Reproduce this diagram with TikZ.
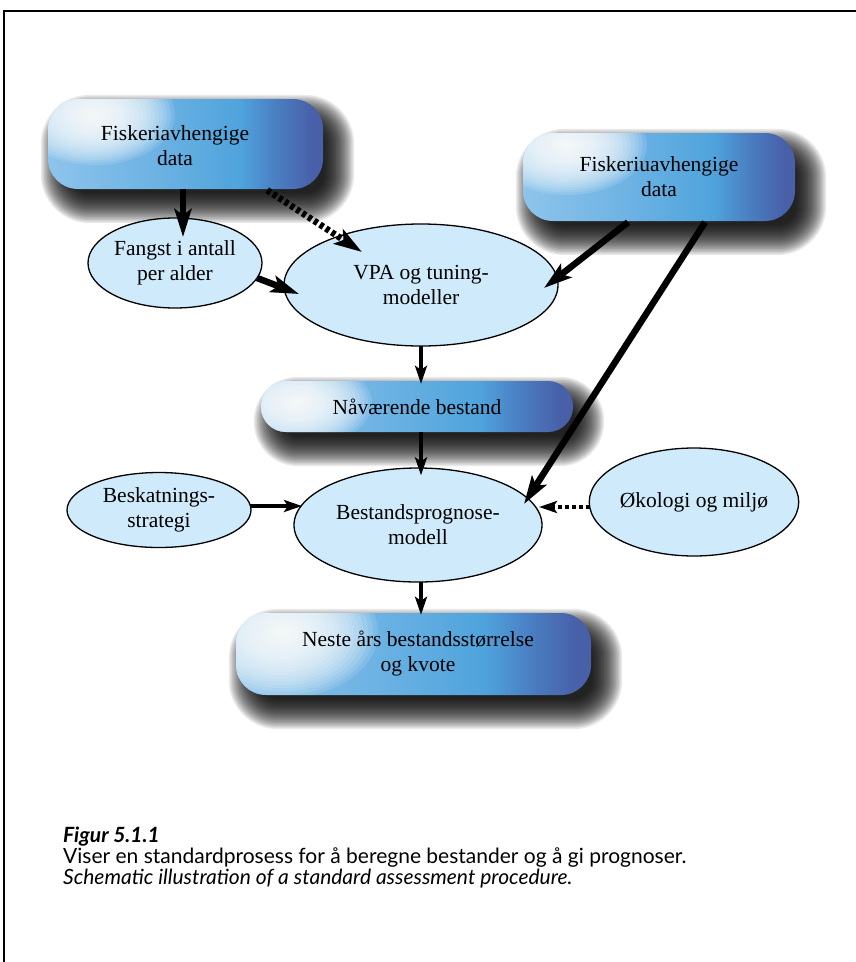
\documentclass[tikz,border=0pt]{standalone}
\usepackage{fontspec}
\setmainfont{Liberation Serif}
\newfontfamily\capfont{Lato}
\usetikzlibrary{arrows.meta,calc,shapes.geometric,backgrounds}
\definecolor{ellfill}{HTML}{CFEAFB}
\definecolor{bA}{HTML}{8EC4EB}
\definecolor{bB}{HTML}{6CB2E3}
\definecolor{bC}{HTML}{4FA3DC}
\definecolor{bD}{HTML}{4A7CC0}
\definecolor{bE}{HTML}{4860A8}
\pgfdeclarehorizontalshading{boxshade}{100bp}{color(0bp)=(bA); color(25bp)=(bA); color(45bp)=(bB); color(60bp)=(bC); color(67bp)=(bD); color(73bp)=(bE); color(100bp)=(bE)}
\newcommand{\diagfont}{\fontsize{21.5}{25}\selectfont}
\newcommand{\boxshadow}[2]{%
  \foreach \e in {19,17.5,...,-12.1} {
    \pgfmathsetmacro\rr{max(#2+\e,2)}
    \fill[black, opacity=0.085, rounded corners=\rr pt]
      ($(#1.north west)+(12-\e,15-\e)$) rectangle ($(#1.south east)+(12+\e,15+\e)$);
  }}
\newcommand{\glowat}[4]{% offset x, offset y, rx, ry (relative to north west)
  \foreach \s in {1,0.95,...,0.04} {
    \fill[white, opacity=0.12] ($(path picture bounding box.north west)+(#1,#2)$) ellipse ({#3*\s*1pt} and {#4*\s*1pt});
  }}
\begin{document}
\begin{tikzpicture}[x=1pt,y=-1pt,
  box/.style={shade, shading=boxshade, rounded corners=#1, inner sep=0pt, align=center, font=\diagfont},
  ell/.style={ellipse, draw, line width=1.3pt, fill=ellfill, inner sep=0pt, align=center, font=\diagfont},
  big/.style={line width=6.5pt, -{Stealth[length=28pt,width=17pt,inset=6pt]}},
  small/.style={line width=4.5pt, -{Stealth[length=18pt,width=12pt,inset=4pt]}},
  dotbig/.style={big, dash pattern=on 4pt off 3pt},
  dotsmall/.style={line width=4.5pt, dash pattern=on 4pt off 3pt, -{Stealth[length=18pt,width=12pt,inset=4pt]}},
  captext/.style={font=\capfont\fontsize{21}{23}\selectfont, inner sep=0pt, anchor=base west}
]
\useasboundingbox (0,0) rectangle (856,962);
\begin{scope}[on background layer]
\fill[white] (0,0) rectangle (856,962);
\end{scope}
\draw[line width=1.3pt] (4,962) -- (4,11) -- (856,11);

% boxes
\node[box=30pt, minimum width=275pt, minimum height=90pt,
  path picture={\glowat{47}{16}{80}{50}}]
  (b1) at (185.5,144) {};
\node[font=\diagfont, align=center, inner sep=0pt] (b1t) at (175,146) {Fiskeriavhengige\\data};

\node[box=30pt, minimum width=272pt, minimum height=88pt,
  path picture={\glowat{44}{12}{80}{50}}]
  (b2) at (659,177) {Fiskeriuavhengige\\data};

\node[box=25pt, minimum width=312pt, minimum height=51pt,
  path picture={\glowat{36}{22}{75}{45}}]
  (nav) at (417,406.5) {Nåværende bestand};

\node[box=30pt, minimum width=355pt, minimum height=82pt,
  path picture={\glowat{47}{20}{95}{65}}]
  (neste) at (413.5,654) {\hspace*{9pt}Neste års bestandsstørrelse\\\hspace*{9pt}og kvote};

% shadows behind boxes
\begin{scope}[on background layer]
\boxshadow{b1}{30}
\boxshadow{b2}{30}
\boxshadow{nav}{25}
\boxshadow{neste}{30}
\end{scope}

% ellipses
\node[ell, minimum width=174pt, minimum height=90pt] (fangst) at (175,263) {Fangst i antall\\per alder};
\node[ell, minimum width=274pt, minimum height=122pt] (vpa) at (421,285) {VPA og tuning-\\modeller};
\node[ell, minimum width=248pt, minimum height=114pt] (best) at (418,525) {Bestandsprognose-\\modell};
\node[ell, minimum width=184pt, minimum height=75pt] (besk) at (159,510) {Beskatnings-\\strategi};
\node[ell, minimum width=193pt, minimum height=108pt] (oko) at (694,502) {Økologi og miljø};

% tip coordinates
\coordinate (t1) at ($(fangst.center)+(8,-26)$);
\coordinate (t2) at ($(vpa.center)+(-59,-33)$);
\coordinate (t3) at ($(vpa.center)+(-122,9)$);
\coordinate (t4) at ($(vpa.center)+(123,3)$);
\coordinate (t5) at ($(best.center)+(106,-21)$);
\coordinate (t8) at ($(best.center)+(-116,-19)$);
\coordinate (t9) at ($(best.center)+(121,-18)$);

% connectors
\draw[big] (b1.south -| t1) -- (t1);
\draw[dotbig] ($(b1.south east)+(-56,1)$) -- (t2);
\draw[big] ($(fangst.center)+(82,15)$) -- (t3);
\draw[big] ($(b2.south)+(-31,1)$) -- (t4);
\draw[big] ($(b2.south)+(46,1)$) -- (t5);
\draw[small] ($(vpa.south)+(0,-1)$) -- ($(nav.north)+(4,3)$);
\draw[small] ($(nav.south)+(4,0)$) -- ($(best.north)+(3,8)$);
\draw[small] ($(besk.east)+(-2,-4)$) -- (t8);
\draw[dotsmall] ($(oko.west)+(1,5)$) -- (t9);
\draw[small] ($(best.south)+(3,-1)$) -- ($(neste.north)+(7.5,2)$);

% caption
\node[captext] (cap1) at (63,842) {\bfseries\itshape Figur 5.1.1};
\node[captext] (cap2) at (63,863) {Viser en standardprosess for å beregne bestander og å gi prognoser.};
\node[captext] (cap3) at (63,884) {\itshape Schematic illustration of a standard assessment procedure.};
\end{tikzpicture}
\end{document}
